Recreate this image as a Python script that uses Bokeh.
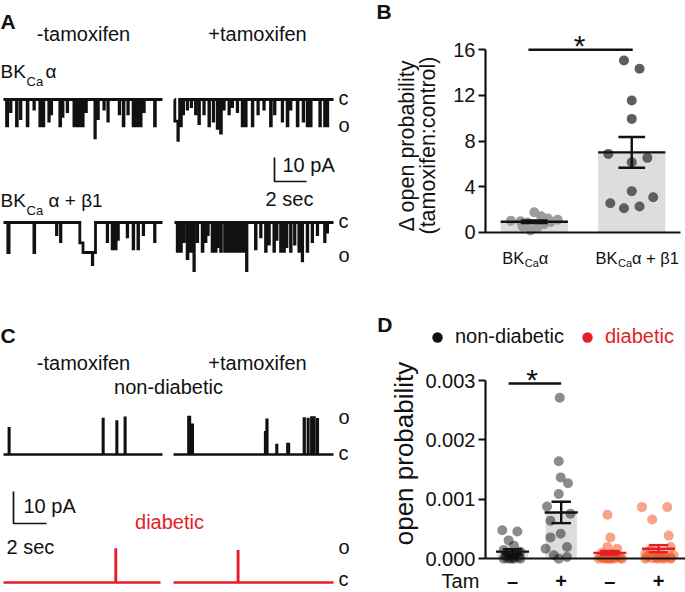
import numpy as np
from bokeh.plotting import figure
from bokeh.models import Label, Range1d, FixedTicker, NumeralTickFormatter, Legend, LegendItem
from bokeh.layouts import row, column
from bokeh.embed import file_html
from bokeh.resources import INLINE

S = 1.0
FONT = "Liberation Sans"
INK = "#111111"
RED = "#E41E26"
PT_RED = "#F05A28"

# ---------------- DATA ----------------
# Panel A: BKCa single-channel openings (downward): start (s), duration (s), amplitude (pA)
A1_T = [0.19, 0.44, 0.81, 1.06, 1.48, 1.90, 2.27, 2.48, 2.83, 2.98, 3.52, 3.69, 3.98, 4.40, 4.56, 4.77,
        4.94, 5.15, 5.71, 5.90, 6.27, 6.52, 7.23, 7.48, 7.77, 8.10, 8.25, 8.40, 8.56, 8.77, 9.44]
A1_D = [0.07, 0.03, 0.05, 0.03, 0.05, 0.03, 0.05, 0.04, 0.03, 0.03, 0.05, 0.03, 0.03, 0.04, 0.04, 0.04,
        0.04, 0.03, 0.03, 0.03, 0.03, 0.03, 0.03, 0.05, 0.03, 0.05, 0.04, 0.05, 0.04, 0.03, 0.05]
A1_A = [11, 5, 11, 8, 11, 4, 11, 11, 9, 6, 11, 7, 5, 11, 11, 11,
        11, 5, 16, 8, 4, 9, 6, 11, 6, 11, 11, 11, 11, 5, 11]

A2_T = [0.02, 0.21, 0.38, 0.54, 0.79, 1.04, 1.31, 1.52, 1.83, 2.15, 2.42, 2.67, 2.88, 3.08, 3.40, 3.60, 3.92,
        4.23, 4.44, 4.86, 5.21, 5.58, 6.00, 6.25, 6.73, 7.04, 7.25, 7.67, 8.04, 8.29, 8.50, 9.08, 9.38, 9.50]
A2_D = [0.30, 0.03, 0.05, 0.03, 0.03, 0.03, 0.03, 0.04, 0.03, 0.04, 0.03, 0.04, 0.05, 0.03, 0.03, 0.03, 0.03,
        0.04, 0.04, 0.04, 0.03, 0.03, 0.05, 0.03, 0.03, 0.05, 0.03, 0.05, 0.03, 0.05, 0.04, 0.04, 0.06, 0.08]
A2_A = [9, 17, 11, 6, 4, 3, 6, 10, 6, 11, 9, 12, 14, 4, 6, 3, 5,
        11, 11, 11, 6, 4, 11, 6, 9, 11, 4, 11, 9, 11, 11, 11, 11, 11]

A3_T = [0.27, 1.90, 3.31, 3.56, 4.77, 4.97, 5.55, 6.48, 6.79, 7.00, 7.15, 7.73, 8.10, 8.40, 8.73, 9.44]
A3_D = [0.08, 0.05, 0.03, 0.03, 0.20, 0.78, 0.03, 0.03, 0.04, 0.04, 0.03, 0.03, 0.04, 0.04, 0.03, 0.03]
A3_A = [12.5, 12.5, 5, 8, 8.5, 12.5, 17.5, 8, 11, 11, 7, 6, 11, 11, 5, 8]

A4_T = [0.17, 0.38, 0.58, 0.79, 1.00, 1.21, 1.42, 1.73, 1.94, 2.08, 2.35, 2.56, 2.71, 2.88, 3.13, 3.29, 3.46,
        3.60, 3.66, 3.72, 3.80, 3.86, 3.93, 4.00, 4.06, 4.12, 4.20, 4.27, 4.34, 4.40, 4.46, 4.50,
        5.06, 5.38, 5.69, 5.90, 6.21, 6.38, 6.63, 6.83, 7.00, 7.25, 7.50, 7.77, 7.98, 8.29, 8.60, 8.92, 9.38, 9.54]
A4_D = [0.05, 0.05, 0.03, 0.05, 0.04, 0.03, 0.03, 0.05, 0.03, 0.03, 0.05, 0.04, 0.03, 0.05, 0.04, 0.04, 0.04,
        0.04, 0.04, 0.05, 0.04, 0.04, 0.05, 0.04, 0.04, 0.05, 0.04, 0.04, 0.04, 0.04, 0.03, 0.03,
        0.04, 0.03, 0.04, 0.03, 0.04, 0.03, 0.04, 0.04, 0.03, 0.04, 0.03, 0.04, 0.03, 0.04, 0.03, 0.03, 0.03, 0.03]
A4_A = [12, 12, 8, 15, 12, 20, 8, 12, 8, 5, 12, 12, 10, 12, 12, 12, 12,
        12, 12, 12, 12, 12, 12, 12, 12, 12, 12, 12, 12, 12, 12, 20,
        11, 6, 12, 9, 12, 7, 12, 12, 10, 12, 9, 12, 16, 12, 8, 5, 8, 4]

# Panel C: native channel openings (upward)
C1_T = [0.32, 6.02, 6.85, 7.35]
C1_D = [0.04, 0.04, 0.04, 0.04]
C1_A = [8.2, 11.1, 10.3, 11.5]
C2_T = [0.90, 1.13, 5.55, 5.64, 6.24, 6.90, 7.90, 8.14, 8.35, 8.50, 8.71]
C2_D = [0.10, 0.04, 0.09, 0.05, 0.04, 0.10, 0.05, 0.04, 0.05, 0.05, 0.04]
C2_A = [11.7, 9.3, 7.0, 10.9, 3.0, 3.3, 11.3, 11.1, 11.6, 11.6, 11.0]
C3_T = [6.79]
C3_D = [0.03]
C3_A = [10.3]
C4_T = [3.90]
C4_D = [0.03]
C4_A = [9.8]

# Panel B: fold change in open probability (tamoxifen:control)
B_GROUPS = ["BKCa α", "BKCa α + β1"]
B_G1 = [1.75, 1.4, 1.2, 1.1, 1.0, 0.95, 0.9, 0.85, 0.7, 0.5, 0.4, 0.15]
B_G1_JIT = [0.0, 0.07, 0.14, 0.24, -0.24, -0.14, 0.17, -0.07, 0.10, -0.12, 0.03, -0.04]
B_G2 = [15.06, 14.33, 11.55, 9.94, 6.87, 6.14, 6.52, 3.6, 3.07, 2.54, 2.1, 2.25]
B_G2_JIT = [-0.08, 0.08, 0.0, 0.0, -0.24, 0.0, 0.16, 0.0, 0.22, -0.22, -0.08, 0.08]
B_MEAN = [0.92, 7.0]
B_SEM = [0.12, 1.35]
B_TICKS = [0, 4, 8, 12, 16]

# Panel D: open probability, non-diabetic / diabetic, -/+ tamoxifen
D_TAM = ["–", "+", "–", "+"]
D_G1 = [0.00048, 0.00046, 0.00031, 0.00022, 0.00015, 0.00012, 0.0001, 0.00008, 0.00005, 0.00003,
        0.00002, 0.00001, 0.0, 0.0, 0.0, 0.0]
D_G1_JIT = [-0.21, 0.10, -0.08, 0.03, -0.18, 0.16, -0.08, 0.06, -0.14, 0.13, 0.0, -0.11, 0.03, 0.16, -0.18, -0.04]
D_G2 = [0.00271, 0.00164, 0.00137, 0.00127, 0.00109, 0.00088, 0.00076, 0.00064, 0.00042, 0.00036,
        0.0002, 0.00017, 0.00006, 0.00003, 0.0]
D_G2_JIT = [-0.03, -0.05, -0.01, 0.14, -0.05, -0.29, 0.19, -0.22, -0.01, -0.22, 0.12, -0.32, -0.15, 0.12, -0.05]
D_G3 = [0.00074, 0.00036, 0.0002, 0.00017, 0.0001, 0.00008, 0.00006, 0.00005, 0.00004, 0.00003,
        0.00002, 0.00002, 0.00001, 0.00001, 0.0, 0.0, 0.0, 0.0, 0.0, 0.0]
D_G3_JIT = [-0.05, 0.01, -0.05, 0.15, -0.16, 0.05, -0.09, 0.18, -0.02, -0.19, 0.12, -0.12, 0.03, 0.22,
            -0.23, -0.05, 0.08, 0.25, -0.12, 0.0]
D_G4 = [0.00087, 0.00087, 0.00066, 0.00039, 0.0002, 0.00015, 0.0001, 0.00008, 0.00006, 0.00005,
        0.00004, 0.00003, 0.00002, 0.00002, 0.00001, 0.00001, 0.0, 0.0, 0.0, 0.0]
D_G4_JIT = [-0.34, 0.18, -0.13, 0.21, 0.25, -0.16, 0.04, -0.27, 0.31, -0.06, 0.11, -0.23, 0.25, -0.03,
            -0.13, 0.14, -0.27, -0.03, 0.25, 0.08]
D_MEAN = [0.00012, 0.00078, 0.0001, 0.00017]
D_SEM = [0.00004, 0.00018, 0.00003, 0.00006]
D_TICKS = [0, 0.001, 0.002, 0.003]

# ---------------- LAYOUT ----------------
WL = round(355 * S)
WR = round(685 * S) - WL
HT = round(290 * S)
HB = round(592 * S) - HT


def fs(px):
    return f"{px * S:.1f}px"


def trace_path(t_len, times, durs, amps, sign):
    edges = sorted(set([0.0, t_len] + list(times) + [t + d for t, d in zip(times, durs)]))
    xs, ys = [], []
    for a, b in zip(edges[:-1], edges[1:]):
        m = 0.5 * (a + b)
        lvl = max([amp for t, d, amp in zip(times, durs, amps) if t <= m < t + d], default=0.0)
        xs += [a, b]
        ys += [sign * lvl, sign * lvl]
    return np.array(xs), np.array(ys)


def txt(p, ax, ay, xr, yr, text, size=20, color=INK, align="left", bold=False, center=False, angle=0.0):
    """Place text; yr is the reference baseline (or the visual centre when center=True)."""
    ymid = yr if center else yr - 0.35 * size
    p.add_layout(Label(x=ax(xr), y=ay(ymid), text=text, text_font=FONT, text_font_size=fs(size),
                       text_color=color, text_align=align, text_baseline="middle", angle=angle,
                       text_font_style="bold" if bold else "normal"))


def make_fig(w, h, xr, yr, axes=False):
    kw = {} if axes else dict(x_axis_location=None, y_axis_location=None)
    p = figure(width=w, height=h, x_range=Range1d(*xr), y_range=Range1d(*yr), toolbar_location=None,
               output_backend="svg", title=None,
               min_border_left=0, min_border_right=0, min_border_top=0, min_border_bottom=0, **kw)
    p.outline_line_color = None
    for g in p.grid:
        g.visible = False
    return p


# ---------- Panel A ----------
axA = lambda xr: (xr - 3) / 16.0
ayA = lambda yr: (99 - yr) / 2.4
pA = make_fig(WL, HT, (axA(0), axA(355)), (ayA(290), ayA(0)))
LEN_A = axA(162)
offA_x = axA(174)
offA_y = ayA(222)
for T, D, A, dx, dy in [(A1_T, A1_D, A1_A, 0, 0), (A2_T, A2_D, A2_A, offA_x, 0),
                        (A3_T, A3_D, A3_A, 0, offA_y), (A4_T, A4_D, A4_A, offA_x, offA_y)]:
    xs, ys = trace_path(LEN_A, T, D, A, -1)
    pA.line(xs + dx, ys + dy, line_width=2.8 * S, line_color=INK, line_join="miter")
# scale bar 10 pA / 2 s
sbx, sby = axA(274), ayA(181)
pA.line([sbx, sbx, sbx + 2.0], [sby + 10.0, sby, sby], line_width=1.7 * S, line_color=INK)

tA = lambda *a, **k: txt(pA, axA, ayA, *a, **k)
tA(0, 20.5, "A", size=21, bold=True, center=True)
tA(83, 40.5, "-tamoxifen", align="center")
tA(257, 40.5, "+tamoxifen", align="center")
tA(0, 78, "BK", size=19)
tA(26, 86, "Ca", size=13)
tA(45, 78, "α", size=19)
tA(0, 207, "BK", size=19)
tA(26, 215, "Ca", size=13)
tA(48, 207, "α + β1", size=19)
for yb, t in [(104, "c"), (131, "o"), (227, "c"), (261, "o")]:
    tA(338, yb, t)
tA(282, 171, "10 pA")
tA(289, 205, "2 sec", align="center")

# ---------- Panel C ----------
axC = lambda xr: (xr - 3) / 16.5
ayC = lambda yr: (454 - yr) / 3.2
pC = make_fig(WL, HB, (axC(0), axC(355)), (ayC(592), ayC(290)))
offC_x = axC(173)
offC_y = ayC(582)
for T, D, A, dx, dy, L, col in [(C1_T, C1_D, C1_A, 0, 0, axC(162), INK),
                                (C2_T, C2_D, C2_A, offC_x, 0, axC(333) - offC_x, INK),
                                (C3_T, C3_D, C3_A, 0, offC_y, axC(160), RED),
                                (C4_T, C4_D, C4_A, offC_x, offC_y, axC(333) - offC_x, RED)]:
    xs, ys = trace_path(L, T, D, A, 1)
    pC.line(xs + dx, ys + dy, line_width=2.4 * S, line_color=col, line_join="miter")
sbx, sby = axC(13), ayC(523)
pC.line([sbx, sbx, sbx + 2.0], [sby + 10.0, sby, sby], line_width=1.7 * S, line_color=INK)

tC = lambda *a, **k: txt(pC, axC, ayC, *a, **k)
tC(0, 335, "C", size=21, bold=True, center=True)
tC(83, 369, "-tamoxifen", align="center")
tC(257, 369, "+tamoxifen", align="center")
tC(168, 393, "non-diabetic", align="center")
tC(169, 528, "diabetic", align="center", color=RED)
tC(23, 512, "10 pA")
tC(6, 553, "2 sec")
for yb, t in [(423, "o"), (459, "c"), (553.5, "o"), (585.5, "c")]:
    tC(338, yb, t)


def style_axes(p):
    for ax in p.axis:
        ax.axis_line_width = 2.2 * S
        ax.axis_line_color = INK
        ax.major_tick_line_width = 2.2 * S
        ax.major_tick_line_color = INK
        ax.minor_tick_line_color = None
        ax.major_tick_in = 0
        ax.major_tick_out = round(7 * S)
        ax.major_label_text_font = FONT
        ax.major_label_text_font_size = fs(20)
        ax.major_label_text_color = INK
        ax.major_label_standoff = 3


# ---------- Panel B ----------
axB = lambda xr: (xr - 485) / 97.5
ayB = lambda yr: (231.7 - yr) / 11.4
pB = make_fig(WR, HT, (axB(355), axB(685)), (ayB(290), ayB(0)), axes=True)
style_axes(pB)
pB.yaxis.ticker = FixedTicker(ticks=B_TICKS)
pB.yaxis.bounds = (0, 16)
pB.yaxis.fixed_location = 0
pB.xaxis.ticker = FixedTicker(ticks=[])
pB.xaxis.fixed_location = 0
pB.xaxis.bounds = (0, axB(680))
pB.xaxis.major_label_text_font_size = "0px"

bx = [i + 0.5 for i in range(len(B_GROUPS))]
pB.vbar(x=bx, top=B_MEAN, width=0.69, fill_color="#dddddd", line_color=None)
pB.scatter([bx[0] + j for j in B_G1_JIT], B_G1, size=10 * S, fill_color="#9c9c9c", line_color=None)
pB.scatter([bx[1] + j for j in B_G2_JIT], B_G2, size=10 * S, fill_color="#5e5e5e", line_color=None)
m, e = np.array(B_MEAN), np.array(B_SEM)
bxa = np.array(bx)
lw = 2.4 * S
pB.segment(bxa - 0.345, m, bxa + 0.345, m, line_width=lw, line_color=INK)
pB.segment(bxa, m - e, bxa, m + e, line_width=lw, line_color=INK)
pB.segment(bxa - 0.137, m + e, bxa + 0.137, m + e, line_width=lw, line_color=INK)
pB.segment(bxa - 0.137, m - e, bxa + 0.137, m - e, line_width=lw, line_color=INK)
# significance bar at the top tick
pB.segment([bx[0] - 0.06], [B_TICKS[-1]], [bx[1] + 0.01], [B_TICKS[-1]], line_width=lw, line_color=INK)
tB = lambda *a, **k: txt(pB, axB, ayB, *a, **k)
tB(579, 44.5, "*", size=30, align="center", center=True)
tB(376, 11, "B", size=21, bold=True, center=True)
tB(406.7, 145, "Δ open probability", size=21.5, align="center", center=True, angle=np.pi / 2)
tB(427.3, 145, "(tamoxifen:control)", size=21.5, align="center", center=True, angle=np.pi / 2)
for xl, parts in [(501.7, [(0, "BK", 16.5, 263), (22.5, "Ca", 11, 266), (36.5, "α", 16.5, 263)]),
                  (595, [(0, "BK", 16.5, 263), (22.5, "Ca", 11, 266), (36.5, "α + β1", 16.5, 263)])]:
    for dx, t, sz, yb in parts:
        tB(xl + dx, yb, t, size=sz)

# ---------- Panel D ----------
axD = lambda xr: 0.445 + (xr - 485) / 48.67
ayD = lambda yr: (558.3 - yr) / 178.3 * 0.003
pD = make_fig(WR, HB, (axD(355), axD(685)), (ayD(592), ayD(290)), axes=True)
style_axes(pD)
pD.yaxis.ticker = FixedTicker(ticks=D_TICKS)
pD.yaxis.formatter = NumeralTickFormatter(format="0.000")
pD.yaxis.bounds = (0, 0.003)
pD.yaxis.fixed_location = axD(485)
pD.xaxis.ticker = FixedTicker(ticks=[])
pD.xaxis.fixed_location = 0
pD.xaxis.bounds = (axD(485), axD(685))
pD.xaxis.major_label_text_font_size = "0px"

dx_pos = [i + 1 for i in range(len(D_TAM))]
pD.vbar(x=dx_pos, top=D_MEAN, width=0.64, fill_color=["#dcdcdc", "#dcdcdc", "#fbe2dc", "#fbe2dc"],
        line_color=None)
groups = [(D_G1, D_G1_JIT, "#000000", 0.45), (D_G2, D_G2_JIT, "#000000", 0.45),
          (D_G3, D_G3_JIT, PT_RED, 0.55), (D_G4, D_G4_JIT, PT_RED, 0.55)]
for i, (vals, jit, col, al) in enumerate(groups):
    pD.scatter([dx_pos[i] + j for j in jit], vals, size=10 * S, fill_color=col, fill_alpha=al, line_color=None)
m, e = np.array(D_MEAN), np.array(D_SEM)
dxa = np.array(dx_pos)
ecol = [INK, INK, RED, RED]
pD.segment(dxa - 0.34, m, dxa + 0.34, m, line_width=lw, line_color=ecol)
pD.segment(dxa, m - e, dxa, m + e, line_width=lw, line_color=ecol)
pD.segment(dxa - 0.2, m + e, dxa + 0.2, m + e, line_width=lw, line_color=ecol)
pD.segment(dxa - 0.2, m - e, dxa + 0.2, m - e, line_width=lw, line_color=ecol)
pD.segment([dx_pos[0] - 0.08], [0.00295], [dx_pos[1]], [0.00295], line_width=lw, line_color=INK)
tD = lambda *a, **k: txt(pD, axD, ayD, *a, **k)
tD(531.7, 379, "*", size=30, align="center", center=True)
tD(376.7, 323.5, "D", size=21, bold=True, center=True)
tD(403, 453, "open probability", size=26, align="center", center=True, angle=np.pi / 2)
tD(460, 580, "Tam", align="center", center=True)
for i, t in enumerate(D_TAM):
    txt(pD, lambda v: v, ayD, dx_pos[i], 580, t, align="center", bold=True, center=True)

# legend (marker-only renderers that hold no visible point)
r_nd = pD.scatter(x=[np.nan], y=[np.nan], size=10 * S, fill_color="#111111", line_color=None)
r_d = pD.scatter(x=[np.nan], y=[np.nan], size=10 * S, fill_color=RED, line_color=None)
gw = round(26 * S)
for r, lbl, col, xdot in [(r_nd, "non-diabetic", INK, 437), (r_d, "diabetic", RED, 587)]:
    leg = Legend(items=[LegendItem(label=lbl, renderers=[r])],
                 location=((xdot - 355) * S - gw / 2, (592 - 336.7) * S - gw / 2),
                 glyph_width=gw, glyph_height=gw, label_standoff=5, padding=0, margin=0, spacing=0,
                 border_line_color=None, background_fill_alpha=0,
                 label_text_font=FONT, label_text_font_size=fs(20), label_text_color=col)
    pD.add_layout(leg)

layout = column(row(pA, pB), row(pC, pD))
with open("out.html", "w") as f:
    f.write(file_html(layout, INLINE))
